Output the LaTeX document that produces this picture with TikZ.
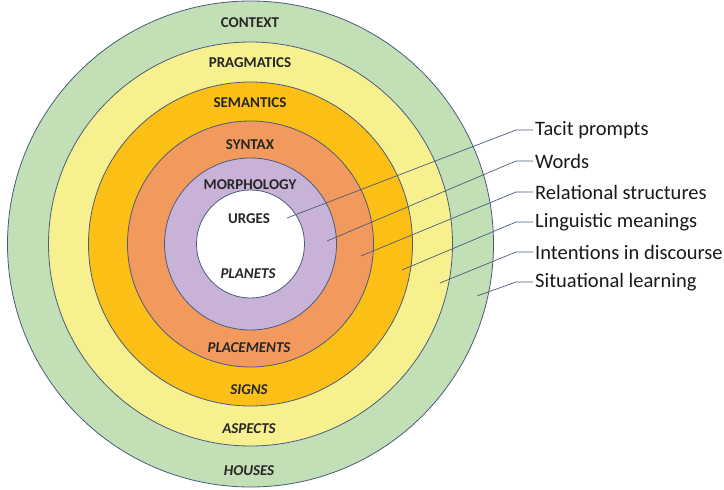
\documentclass[tikz,border=0pt]{standalone}
\usepackage{fontspec}
\setmainfont{Carlito}
\usetikzlibrary{calc}

\definecolor{ringgreen}{HTML}{C3DFB6}
\definecolor{ringyellow}{HTML}{F6F08E}
\definecolor{ringorange}{HTML}{FBBF16}
\definecolor{ringsalmon}{HTML}{F29A5E}
\definecolor{ringlilac}{HTML}{C9B2D8}
\definecolor{edge}{HTML}{4A5B7E}

\tikzset{
  ring/.style={draw=edge, line width=0.8pt},
  ringtitle/.style={font=\fontsize{15}{17}\selectfont\bfseries, text=black!85, inner sep=1pt},
  ringsub/.style={font=\fontsize{15}{17}\selectfont\bfseries\itshape, text=black!85, inner sep=1pt},
  lead/.style={draw=edge, line width=0.7pt},
  legend/.style={font=\fontsize{20.5}{23}\selectfont, anchor=west, inner sep=2pt, text=black!90}
}

\begin{document}
\begin{tikzpicture}[x=1pt,y=-1pt]
  \useasboundingbox (0,0) rectangle (724,490);
  \coordinate (c) at (250.5,244);

  % concentric rings, outermost first
  \fill[ringgreen]  (c) circle[radius=243pt];
  \draw[ring]       (c) circle[radius=243pt];
  \fill[ringyellow] (c) circle[radius=202pt];
  \draw[ring]       (c) circle[radius=202pt];
  \fill[ringorange] (c) circle[radius=162pt];
  \draw[ring]       (c) circle[radius=162pt];
  \fill[ringsalmon] (c) circle[radius=123pt];
  \draw[ring]       (c) circle[radius=123pt];
  \fill[ringlilac]  (c) circle[radius=86pt];
  \draw[ring]       (c) circle[radius=86pt];
  \fill[white]      (c) circle[radius=54pt];
  \draw[ring]       (c) circle[radius=54pt];

  % upper titles
  \node[ringtitle] (context)    at (250,23)  {CONTEXT};
  \node[ringtitle] (pragmatics) at (250,63)  {PRAGMATICS};
  \node[ringtitle] (semantics)  at (250,103) {SEMANTICS};
  \node[ringtitle] (syntax)     at (250,145) {SYNTAX};
  \node[ringtitle] (morphology) at (250,185) {MORPHOLOGY};
  \node[ringtitle] (urges)      at (249,219) {URGES};

  % lower titles
  \node[ringsub] (planets)    at (248,274) {PLANETS};
  \node[ringsub] (placements) at (249,348) {PLACEMENTS};
  \node[ringsub] (signs)      at (249,390) {SIGNS};
  \node[ringsub] (aspects)    at (249,429) {ASPECTS};
  \node[ringsub] (houses)     at (249,471) {HOUSES};

  % legend entries
  \node[legend] (tacit)  at (533,130) {Tacit prompts};
  \node[legend] (words)  at (533,161) {Words};
  \node[legend] (rel)    at (533,192) {Relational structures};
  \node[legend] (ling)   at (533,222) {Linguistic meanings};
  \node[legend] (intent) at (533,252) {Intentions in discourse};
  \node[legend] (situ)   at (533,282) {Situational learning};

  % anchor points inside each ring
  \coordinate (p1) at (287,218);
  \coordinate (p2) at (327,241);
  \coordinate (p3) at (361,256);
  \coordinate (p4) at (402,270);
  \coordinate (p5) at (440,283);
  \coordinate (p6) at (477,296);

  % leader lines with a short horizontal stub
  \foreach \p/\t in {p1/tacit, p2/words, p3/rel, p4/ling, p5/intent, p6/situ}{
    \draw[lead] (\p) -- ($(\t.west)+(-17,0)$) -- (\t.west);
  }
\end{tikzpicture}
\end{document}
